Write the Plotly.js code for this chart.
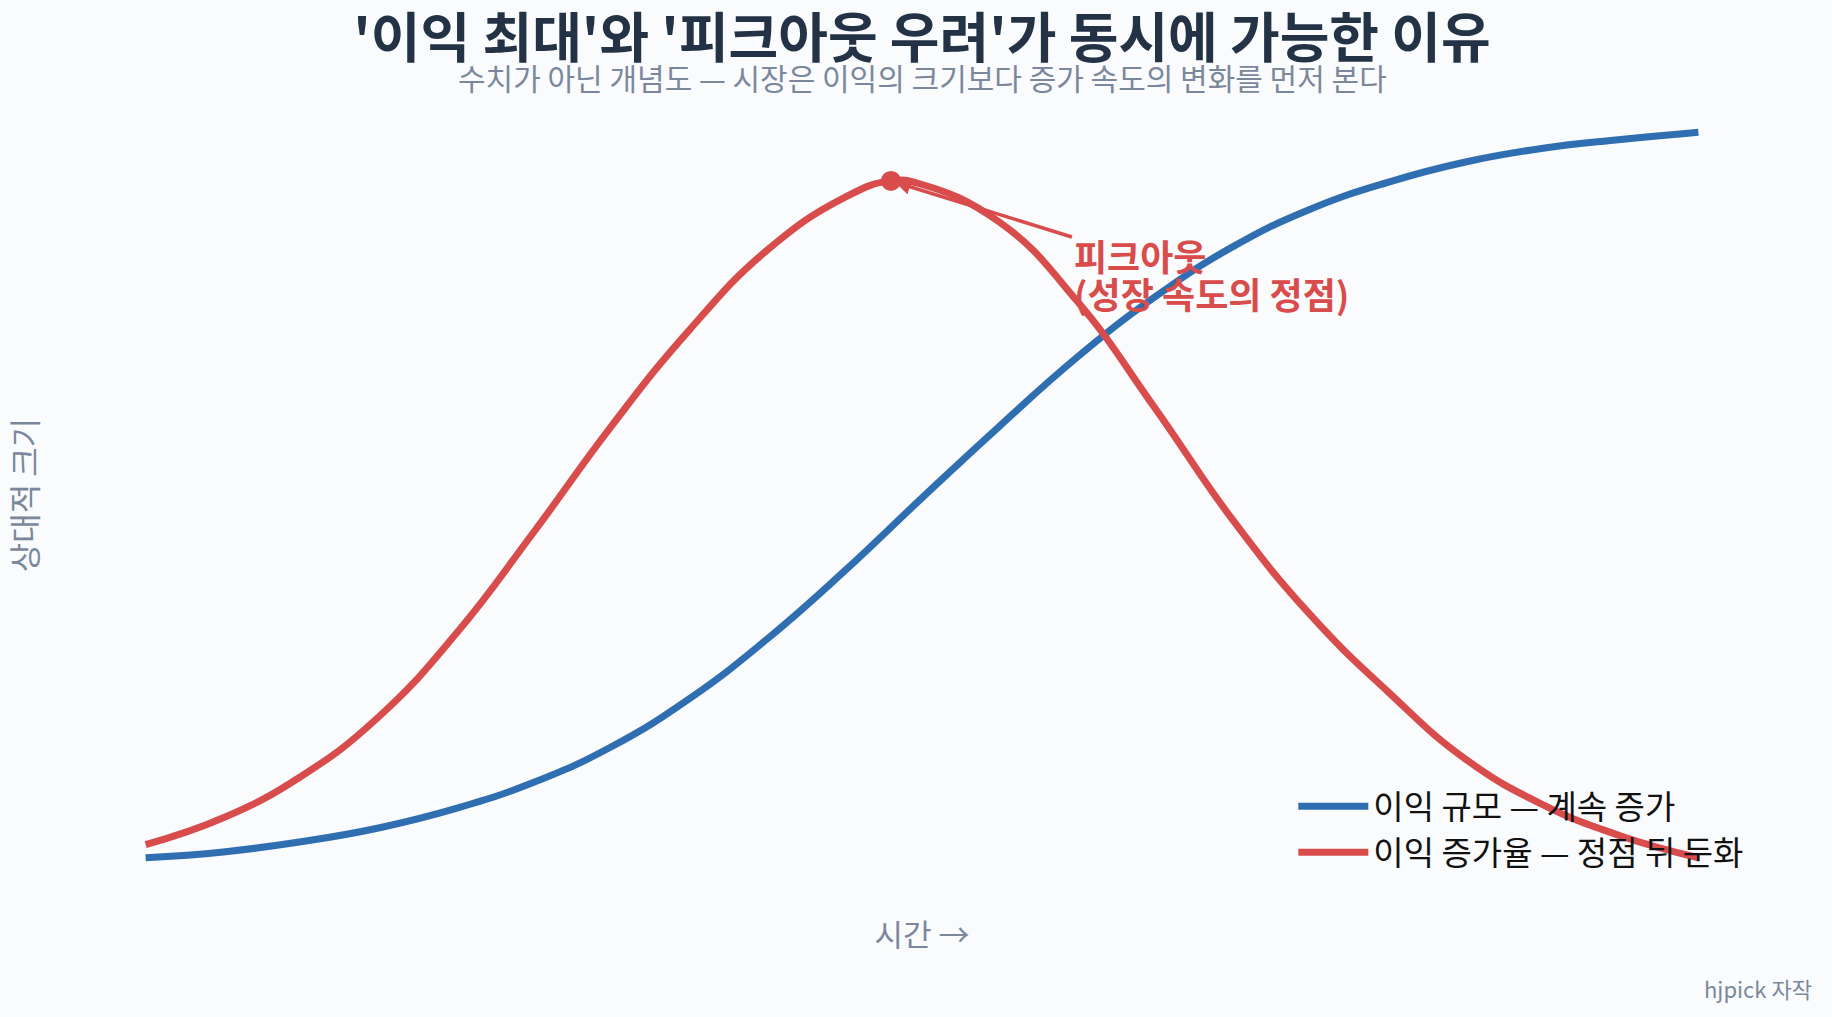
<!DOCTYPE html>
<html>
<head>
<meta charset="utf-8">
<script src="https://cdn.plot.ly/plotly-3.0.1.min.js"></script>
<style>
  html, body { margin: 0; padding: 0; background: #f9fbfd; }
  #chart { width: 1832px; height: 1017px; }
</style>
</head>
<body>
<div id="chart"></div>
<script>
// time steps (concept chart, no real units)
const timeSteps = [0,1,2,3,4,5,6,7,8,9,10,11,12,13,14,15,16,17,18,19,20];

// 이익 규모 (relative size)
const profitSize = [0,0.8,2.2,4.1,6.8,10.4,15.3,21.9,30.1,39.5,49.6,59.5,69.0,77.3,84.2,89.4,93.1,95.9,97.8,99.0,100];

// 이익 증가율 (the extra 9.6 point is the peak)
const growthTime = [0,1,2,3,4,5,6,7,8,9,9.6,10,11,12,13,14,15,16,17,18,19,20];
const growthRate = [1.8,5.5,11.2,19.4,30.9,44.9,59.5,72.7,83.7,91.0,93.3,92.8,87.6,76.7,62.0,46.6,33.5,22.9,13.6,7.3,3.0,0];

const peakTime = [9.6];
const peakRate = [93.3];

const seriesNames = ["이익 규모 — 계속 증가", "이익 증가율 — 정점 뒤 둔화"];
const peakLabel = ["피크아웃", "(성장 속도의 정점)"];

const blue = "#2f6fb1";
const red = "#d94c4c";
const grey = "#7b889c";
const font = "'Noto Sans CJK KR', 'Noto Sans', sans-serif";

const data = [
  {
    x: timeSteps,
    y: profitSize,
    name: seriesNames[0],
    mode: "lines",
    line: {color: blue, width: 7, shape: "spline", smoothing: 1.3},
    hoverinfo: "skip"
  },
  {
    x: growthTime,
    y: growthRate,
    name: seriesNames[1],
    mode: "lines",
    line: {color: red, width: 7, shape: "spline", smoothing: 1.3},
    hoverinfo: "skip"
  },
  {
    x: peakTime,
    y: peakRate,
    mode: "markers",
    marker: {color: red, size: 20},
    showlegend: false,
    hoverinfo: "skip"
  }
];

const layout = {
  width: 1832,
  height: 1017,
  paper_bgcolor: "#f9fbfd",
  plot_bgcolor: "#f9fbfd",
  font: {family: font},
  margin: {t: 96, l: 68, r: 56, b: 123},
  title: {
    text: "<b>'이익 최대'와 '피크아웃 우려'가 동시에 가능한 이유</b>",
    font: {size: 54, color: "#233345", family: font},
    x: 0.5,
    xref: "paper",
    y: 0.962,
    yref: "container",
    yanchor: "middle"
  },
  xaxis: {
    range: [-1, 21],
    showgrid: false, zeroline: false, showline: false,
    showticklabels: false, ticks: "",
    title: {text: "시간 →", font: {size: 31, color: grey}, standoff: 30}
  },
  yaxis: {
    range: [-5, 105],
    showgrid: false, zeroline: false, showline: false,
    showticklabels: false, ticks: "",
    title: {text: "상대적 크기", font: {size: 32, color: grey}, standoff: 24}
  },
  legend: {
    x: 0.7174, xanchor: "left",
    y: 0.145, yanchor: "top",
    bgcolor: "rgba(0,0,0,0)",
    font: {size: 33, color: "#111111"},
    itemwidth: 70
  },
  annotations: [
    {
      // subtitle
      x: 0.5, y: 1.024, xref: "paper", yref: "paper",
      xanchor: "center", yanchor: "middle",
      text: "수치가 아닌 개념도 — 시장은 이익의 크기보다 증가 속도의 변화를 먼저 본다",
      showarrow: false,
      font: {size: 30, color: grey}
    },
    {
      // arrow only, from the label to the peak
      x: 9.6, y: 93.3, xref: "x", yref: "y",
      ax: 11.95, ay: 85.5, axref: "x", ayref: "y",
      text: "",
      showarrow: true, arrowhead: 2, arrowsize: 0.9, arrowwidth: 3.5,
      arrowcolor: red, standoff: 4
    },
    {
      x: 11.93, y: 83.1, xref: "x", yref: "y",
      xanchor: "left", yanchor: "middle", align: "left",
      text: "<b>" + peakLabel[0] + "</b>",
      showarrow: false,
      font: {size: 36, color: red}
    },
    {
      x: 11.93, y: 77.8, xref: "x", yref: "y",
      xanchor: "left", yanchor: "middle", align: "left",
      text: "<b>" + peakLabel[1] + "</b>",
      showarrow: false,
      font: {size: 36, color: red}
    },
    {
      // credit in the lower right corner
      x: 1.0225, y: -0.118, xref: "paper", yref: "paper",
      xanchor: "right", yanchor: "middle",
      text: "hjpick 자작",
      showarrow: false,
      font: {size: 22, color: grey}
    }
  ]
};

const config = {responsive: false, displayModeBar: false, staticPlot: true};

Plotly.newPlot("chart", data, layout, config);
</script>
</body>
</html>
